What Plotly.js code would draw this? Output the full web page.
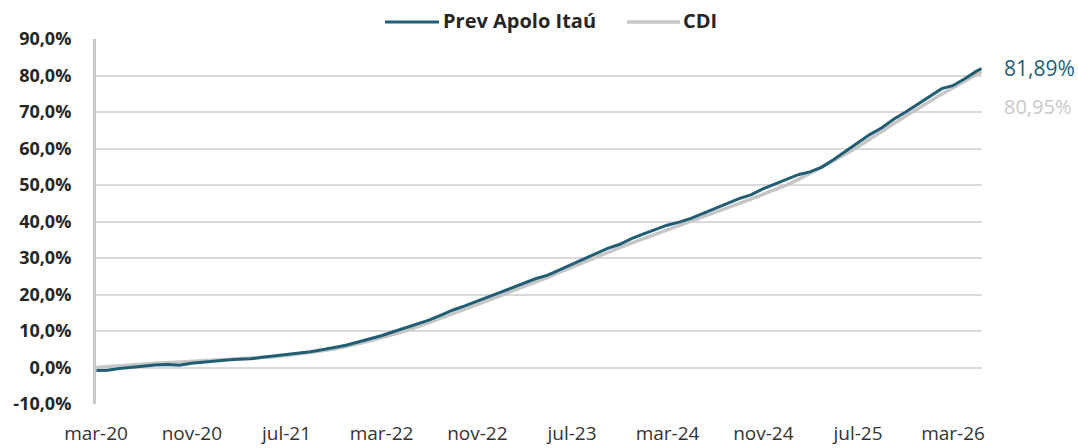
<!DOCTYPE html>
<html>
<head>
<meta charset="utf-8">
<script src="https://cdn.plot.ly/plotly-3.0.1.min.js"></script>
<style>
  html, body { margin: 0; padding: 0; background: #ffffff; }
  #chart { width: 1078px; height: 448px; }
</style>
</head>
<body>
<div id="chart"></div>
<script>
const dates = [
  "2020-03-02","2020-03-31","2020-04-30","2020-05-31","2020-06-30","2020-07-31","2020-08-31","2020-09-30","2020-10-31","2020-11-30","2020-12-31",
  "2021-01-31","2021-02-28","2021-03-31","2021-04-30","2021-05-31","2021-06-30","2021-07-31","2021-08-31","2021-09-30","2021-10-31","2021-11-30","2021-12-31",
  "2022-01-31","2022-02-28","2022-03-31","2022-04-30","2022-05-31","2022-06-30","2022-07-31","2022-08-31","2022-09-30","2022-10-31","2022-11-30","2022-12-31",
  "2023-01-31","2023-02-28","2023-03-31","2023-04-30","2023-05-31","2023-06-30","2023-07-31","2023-08-31","2023-09-30","2023-10-31","2023-11-30","2023-12-31",
  "2024-01-31","2024-02-29","2024-03-31","2024-04-30","2024-05-31","2024-06-30","2024-07-31","2024-08-31","2024-09-30","2024-10-31","2024-11-30","2024-12-31",
  "2025-01-31","2025-02-28","2025-03-31","2025-04-30","2025-05-31","2025-06-30","2025-07-31","2025-08-31","2025-09-30","2025-10-31","2025-11-30","2025-12-31",
  "2026-01-31","2026-02-28","2026-03-31","2026-04-30","2026-05-13"
];

const cdi = [
  0.00, 0.25, 0.53, 0.77, 0.98, 1.17, 1.33, 1.49, 1.66, 1.81, 1.97,
  2.13, 2.26, 2.47, 2.68, 2.96, 3.28, 3.65, 4.09, 4.55, 5.06, 5.68, 6.50,
  7.28, 8.09, 9.10, 10.00, 11.14, 12.27, 13.43, 14.76, 15.99, 17.17, 18.37, 19.70,
  21.04, 22.15, 23.58, 24.72, 26.11, 27.46, 28.82, 30.29, 31.55, 32.87, 34.09, 35.29,
  36.60, 37.69, 38.83, 40.07, 41.23, 42.35, 43.64, 44.89, 46.10, 47.46, 48.62, 50.00,
  51.60, 53.20, 54.80, 56.60, 58.50, 60.40, 62.60, 64.60, 66.70, 68.90, 70.80, 72.90,
  74.90, 76.60, 78.60, 80.30, 80.95
];

const prevApolo = [
  -0.80, -0.75, -0.27, 0.07, 0.38, 0.67, 0.83, 0.59, 1.16, 1.51, 1.77,
  2.03, 2.26, 2.37, 2.78, 3.16, 3.48, 3.75, 4.29, 4.85, 5.56, 6.08, 7.00,
  7.88, 8.69, 9.80, 10.90, 11.94, 12.97, 14.33, 15.76, 16.89, 18.17, 19.27, 20.70,
  22.04, 23.05, 24.38, 25.32, 26.81, 28.26, 29.72, 31.29, 32.65, 33.77, 35.29, 36.59,
  37.80, 38.99, 39.83, 40.87, 42.23, 43.55, 44.94, 46.29, 47.30, 48.96, 50.22, 51.50,
  52.90, 53.60, 54.90, 57.00, 59.30, 61.40, 63.80, 65.70, 68.00, 70.00, 72.10, 74.10,
  76.40, 77.20, 79.10, 81.20, 81.89
];

const seriesNames = ["Prev Apolo Itaú", "CDI"];

const xTickVals = ["2020-03-01","2020-11-01","2021-07-01","2022-03-01","2022-11-01","2023-07-01","2024-03-01","2024-11-01","2025-07-01","2026-03-01"];
const xTickText = ["mar-20","nov-20","jul-21","mar-22","nov-22","jul-23","mar-24","nov-24","jul-25","mar-26"];
const yTickVals = [-10, 0, 10, 20, 30, 40, 50, 60, 70, 80, 90];
const yTickText = ["-10,0%","0,0%","10,0%","20,0%","30,0%","40,0%","50,0%","60,0%","70,0%","80,0%","90,0%"];

const TEAL = "#215e75";
const GRAY = "#c6c6c6";
const FONT = "Open Sans, sans-serif";

const fmt = v => v.toFixed(2).replace(".", ",") + "%";
const last = a => a[a.length - 1];

const traces = [
  {
    x: dates, y: cdi, name: seriesNames[1], type: "scatter", mode: "lines",
    line: { color: GRAY, width: 3.5 }, hoverinfo: "skip", showlegend: false
  },
  {
    x: dates, y: prevApolo, name: seriesNames[0], type: "scatter", mode: "lines",
    line: { color: TEAL, width: 3 }, hoverinfo: "skip", showlegend: false
  }
];

// legend drawn as paper-anchored samples above the plot
const legY = 1.0466, legTextY = 1.052;
const legendShapes = [
  { type: "line", xref: "paper", yref: "paper", x0: 0.3262, x1: 0.3871, y0: legY, y1: legY,
    line: { color: TEAL, width: 3 } },
  { type: "line", xref: "paper", yref: "paper", x0: 0.5993, x1: 0.6591, y0: legY, y1: legY,
    line: { color: GRAY, width: 3.5 } }
];
const legendLabels = [
  { xref: "paper", yref: "paper", x: 0.3890, y: legTextY, xanchor: "left", yanchor: "middle",
    text: seriesNames[0], showarrow: false,
    font: { family: FONT, size: 20, color: "#262626", weight: "bold" } },
  { xref: "paper", yref: "paper", x: 0.6600, y: legTextY, xanchor: "left", yanchor: "middle",
    text: seriesNames[1], showarrow: false,
    font: { family: FONT, size: 20, color: "#262626", weight: "bold" } }
];

const layout = {
  width: 1078, height: 448,
  margin: { l: 96, r: 96, t: 39, b: 44, pad: 0 },
  paper_bgcolor: "#ffffff", plot_bgcolor: "#ffffff",
  font: { family: FONT, size: 18, color: "#262626" },
  showlegend: false,
  xaxis: {
    type: "date", range: ["2020-03-01", "2026-05-14"],
    tickmode: "array", tickvals: xTickVals, ticktext: xTickText,
    showgrid: false, showline: false, zeroline: false, ticks: "",
    tickfont: { family: FONT, size: 19, color: "#333333" },
    ticklabelstandoff: 16
  },
  yaxis: {
    range: [-10, 90], tickmode: "array", tickvals: yTickVals, ticktext: yTickText,
    showgrid: true, gridcolor: "#d9d9d9", gridwidth: 2,
    zeroline: false, showline: true, linecolor: "#c8c8c8", linewidth: 3,
    ticks: "", tickfont: { family: FONT, size: 18, color: "#262626", weight: "bold" },
    ticklabelstandoff: 18
  },
  shapes: legendShapes,
  annotations: legendLabels.concat([
    {
      x: last(dates), y: last(prevApolo), xref: "x", yref: "y",
      text: fmt(last(prevApolo)), showarrow: false, xanchor: "left", yanchor: "middle",
      xshift: 20, yshift: 1, font: { family: FONT, size: 21, color: TEAL }
    },
    {
      x: last(dates), y: last(cdi), xref: "x", yref: "y",
      text: fmt(last(cdi)), showarrow: false, xanchor: "left", yanchor: "middle",
      xshift: 20, yshift: -34, font: { family: FONT, size: 20, color: "#c8c8c8" }
    }
  ])
};

Plotly.newPlot("chart", traces, layout, { displayModeBar: false, staticPlot: true });
</script>
</body>
</html>
